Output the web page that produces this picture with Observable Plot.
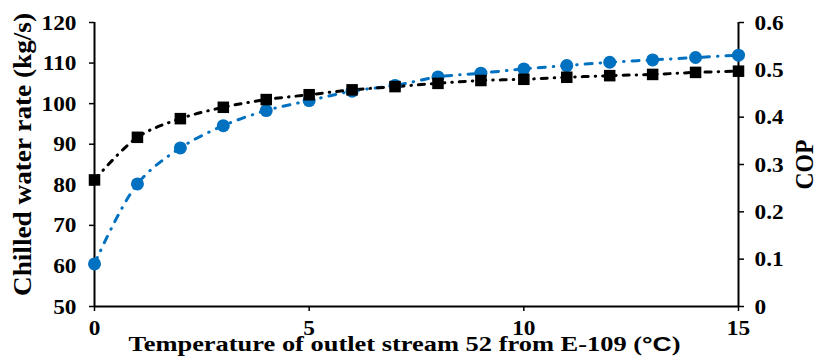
<!DOCTYPE html>
<html>
<head>
<meta charset="utf-8">
<script src="https://cdn.jsdelivr.net/npm/d3@7"></script>
<script src="https://cdn.jsdelivr.net/npm/@observablehq/plot@0.6"></script>
<style>
  html, body { margin: 0; padding: 0; background: #fff; }
</style>
</head>
<body>
<div id="chart"></div>
<script>
// Temperature of outlet stream 52 from E-109 (°C)
const temperature = [0, 1, 2, 3, 4, 5, 6, 7, 8, 9, 10, 11, 12, 13, 14, 15];
// Black squares — left axis (kg/s)
const chilledWaterRate = [81.2, 91.7, 96.3, 99.1, 101.0, 102.2, 103.4, 104.2, 105.0, 105.7, 106.0, 106.5, 106.9, 107.2, 107.7, 108.0];
// Blue circles — right axis (COP)
const cop = [0.090, 0.259, 0.335, 0.382, 0.414, 0.435, 0.455, 0.467, 0.485, 0.493, 0.502, 0.509, 0.516, 0.521, 0.526, 0.531];

const xTicks = [0, 5, 10, 15];
const leftTicks = [50, 60, 70, 80, 90, 100, 110, 120];
const rightTicks = [0, 0.1, 0.2, 0.3, 0.4, 0.5, 0.6];

const leftDomain = [50, 120];
const rightDomain = [0, 0.6];
const copToLeft = v => leftDomain[0] + (v - rightDomain[0]) / (rightDomain[1] - rightDomain[0]) * (leftDomain[1] - leftDomain[0]);
const leftToCop = v => rightDomain[0] + (v - leftDomain[0]) / (leftDomain[1] - leftDomain[0]) * (rightDomain[1] - rightDomain[0]);

const water = temperature.map((t, i) => ({t, v: chilledWaterRate[i]}));
const copData = temperature.map((t, i) => ({t, v: copToLeft(cop[i])}));

const BLUE = "#0070C0";
const FONT = "'Liberation Serif', 'Times New Roman', serif";

const plot = Plot.plot({
  width: 818,
  height: 364,
  marginTop: 22,
  marginRight: 80,
  marginBottom: 58,
  marginLeft: 94,
  style: {fontFamily: FONT, fontSize: "22px", fontWeight: "bold", color: "#000", background: "#fff"},
  x: {domain: [0, 15]},
  y: {domain: leftDomain},
  marks: [
    Plot.axisX({ticks: xTicks, tickSize: 5, tickPadding: 8, label: null, strokeWidth: 1.5, className: "tick-x"}),
    Plot.axisY({ticks: leftTicks, anchor: "left", tickSize: 5, tickPadding: 13, label: null, strokeWidth: 1.5, className: "tick-l"}),
    Plot.axisY({ticks: rightTicks.map(copToLeft), anchor: "right", tickSize: 5, tickPadding: 11, label: null, strokeWidth: 1.5, className: "tick-r",
      tickFormat: d => { const v = Math.round(leftToCop(d) * 10) / 10; return v === 0 ? "0" : v.toFixed(1); }}),
    Plot.ruleY([leftDomain[0]], {stroke: "#000", strokeWidth: 2}),
    Plot.ruleX([0], {stroke: "#000", strokeWidth: 2}),
    Plot.ruleX([15], {stroke: "#000", strokeWidth: 2}),
    Plot.line(copData, {x: "t", y: "v", stroke: BLUE, strokeWidth: 3, curve: "catmull-rom",
      strokeDasharray: "7,8,0.5,8", strokeLinecap: "round"}),
    Plot.line(water, {x: "t", y: "v", stroke: "#000", strokeWidth: 3, curve: "catmull-rom",
      strokeDasharray: "6,7,0.5,7", strokeLinecap: "round"}),
    Plot.dot(copData, {x: "t", y: "v", r: 6.5, fill: BLUE, stroke: "none"}),
    Plot.dot(water, {x: "t", y: "v", symbol: "square", r: 6.5, fill: "#000", stroke: "none"}),
    Plot.text(["Temperature of outlet stream 52 from E-109 (°C)"], {frameAnchor: "bottom", dx: -12, dy: 44, textAnchor: "middle",
      fontSize: 21, fontWeight: "bold", fill: "#000", className: "xtitle"}),
    Plot.text(["Chilled water rate (kg/s)"], {frameAnchor: "left", dx: -72, dy: -10, rotate: -90, textAnchor: "middle",
      fontSize: 25, fontWeight: "bold", fill: "#000", className: "ytitle"}),
    Plot.text(["COP"], {frameAnchor: "right", dx: 66, dy: 0, rotate: -90, textAnchor: "middle",
      fontSize: 25, fontWeight: "bold", fill: "#000", className: "rtitle"})
  ]
});

// render the °C glyphs in a sans face, as in the reference
d3.select(plot).selectAll("g.xtitle text").each(function() {
  const t = d3.select(this);
  const s = t.text();
  const k = s.indexOf("°C");
  if (k >= 0) {
    t.text(null);
    t.append("tspan").text(s.slice(0, k));
    t.append("tspan").style("font-family", "'Liberation Sans', Arial, sans-serif").text("°C");
    t.append("tspan").text(s.slice(k + 2));
  }
});

document.getElementById("chart").appendChild(plot);

// the reference text is horizontally stretched; match its widths
function stretch(sel, f) {
  d3.select(plot).selectAll(sel).each(function() {
    const L = this.getComputedTextLength();
    const target = typeof f === "function" ? f(L) : f;
    this.setAttribute("textLength", target);
    this.setAttribute("lengthAdjust", "spacingAndGlyphs");
  });
}
stretch("g.tick-x text, g.tick-l text, g.tick-r text", L => L * 1.06);
stretch("g.xtitle text", 552);
stretch("g.ytitle text", 283);
stretch("g.rtitle text", 50);
</script>
</body>
</html>
